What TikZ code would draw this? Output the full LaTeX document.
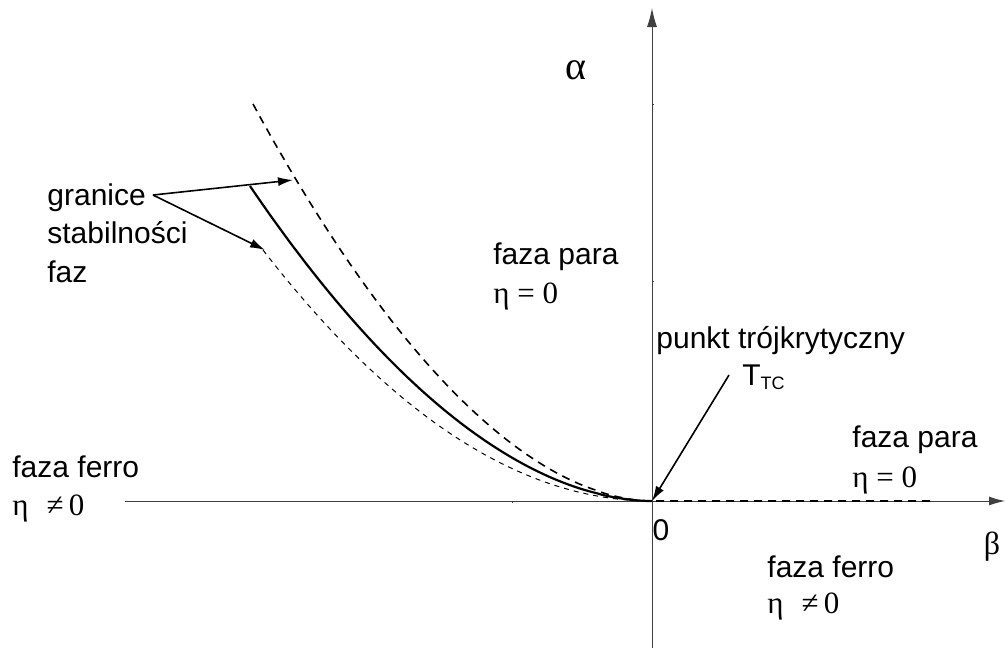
\documentclass[tikz,border=0pt]{standalone}
\usepackage{fontspec}
\setmainfont{Liberation Sans}
\newfontfamily\grk{Liberation Serif}
\usetikzlibrary{arrows.meta}
\begin{document}
\begin{tikzpicture}[x=0.5pt,y=-0.5pt,
  txt/.style={anchor=base west,inner sep=0pt,font=\fontsize{15}{18}\selectfont},
  gr/.style={anchor=base west,inner sep=0pt,font=\grk\fontsize{15.5}{17}\selectfont},
  axis/.style={draw=black!75,line width=0.5pt},
  ptr/.style={line width=0.8pt,-{Latex[length=7.5pt,width=4.5pt]}},
  outerb/.style={line width=0.8pt,dash pattern=on 4pt off 3pt},
  innerb/.style={line width=0.5pt,dash pattern=on 2.5pt off 2.5pt},
  solidb/.style={line width=1.1pt}]
\useasboundingbox (0,0) rectangle (1005,655);
% axes
\coordinate (O) at (652,501);
\coordinate (xs) at (125,501);
\coordinate (xe) at (1005,501);
\coordinate (ys) at (652,648);
\coordinate (ye) at (652,8);
\coordinate (de) at (930,501);
\draw[axis,-{Latex[length=8pt,width=4.5pt]}] (xs) -- (xe);
\draw[axis,-{Latex[length=9.5pt,width=5pt]}] (ys) -- (ye);
\draw[axis] (652,104) -- (654,104) (652,281) -- (654,281) (512,501) -- (512,503);
% curves
\draw[outerb] plot[domain=399:0.5,samples=90,smooth] ({652-\x},{501-397*(\x/399)^1.85}) -- (O) -- (de);
\draw[solidb] plot[domain=402:0.5,samples=90,smooth] ({652-\x},{501-315*(\x/402)^1.88}) -- (O);
\draw[innerb] plot[domain=389:0.5,samples=90,smooth] ({652-\x},{501-251*(\x/389)^2}) -- (O);
% labels
\node[font=\grk\fontsize{20}{22}\selectfont,inner sep=0pt] (alpha) at (576,70) {α};
\node[font=\grk\fontsize{16}{18}\selectfont,inner sep=0pt] (beta) at (992,547) {β};
\node[font=\fontsize{15}{18}\selectfont,inner sep=0pt] (zero) at (661,530) {0};
\node[txt] (g1) at (47,205) {granice};
\node[txt] (g2) at (47,243) {stabilności};
\node[txt] (g3) at (47,282) {faz};
\coordinate (gs) at (153,195);
\coordinate (t1) at (293,180);
\coordinate (t2) at (265,250);
\draw[ptr] (gs) -- (t1);
\draw[ptr] (gs) -- (t2);
\node[txt] (pp1) at (493,264) {faza para};
\node[gr] (pe1) at (493,303) {η = 0};
\node[txt] (pk) at (656,348) {punkt trójkrytyczny};
\node[txt] (ttc) at (742,385) {T\raisebox{-2pt}{\fontsize{9}{10}\selectfont TC}};
\coordinate (ps) at (729,375);
\draw[ptr] (ps) -- (O);
\node[txt] (pp2) at (852,447) {faza para};
\node[gr] (pe2) at (852,487) {η = 0};
\node[txt] (pf2) at (767,577) {faza ferro};
\node[gr] (pn2) at (767,613) {η\hspace{9pt}≠\,0};
\node[txt] (pf1) at (12,477) {faza ferro};
\node[gr] (pn1) at (12,515) {η\hspace{9pt}≠\,0};
\end{tikzpicture}
\end{document}
